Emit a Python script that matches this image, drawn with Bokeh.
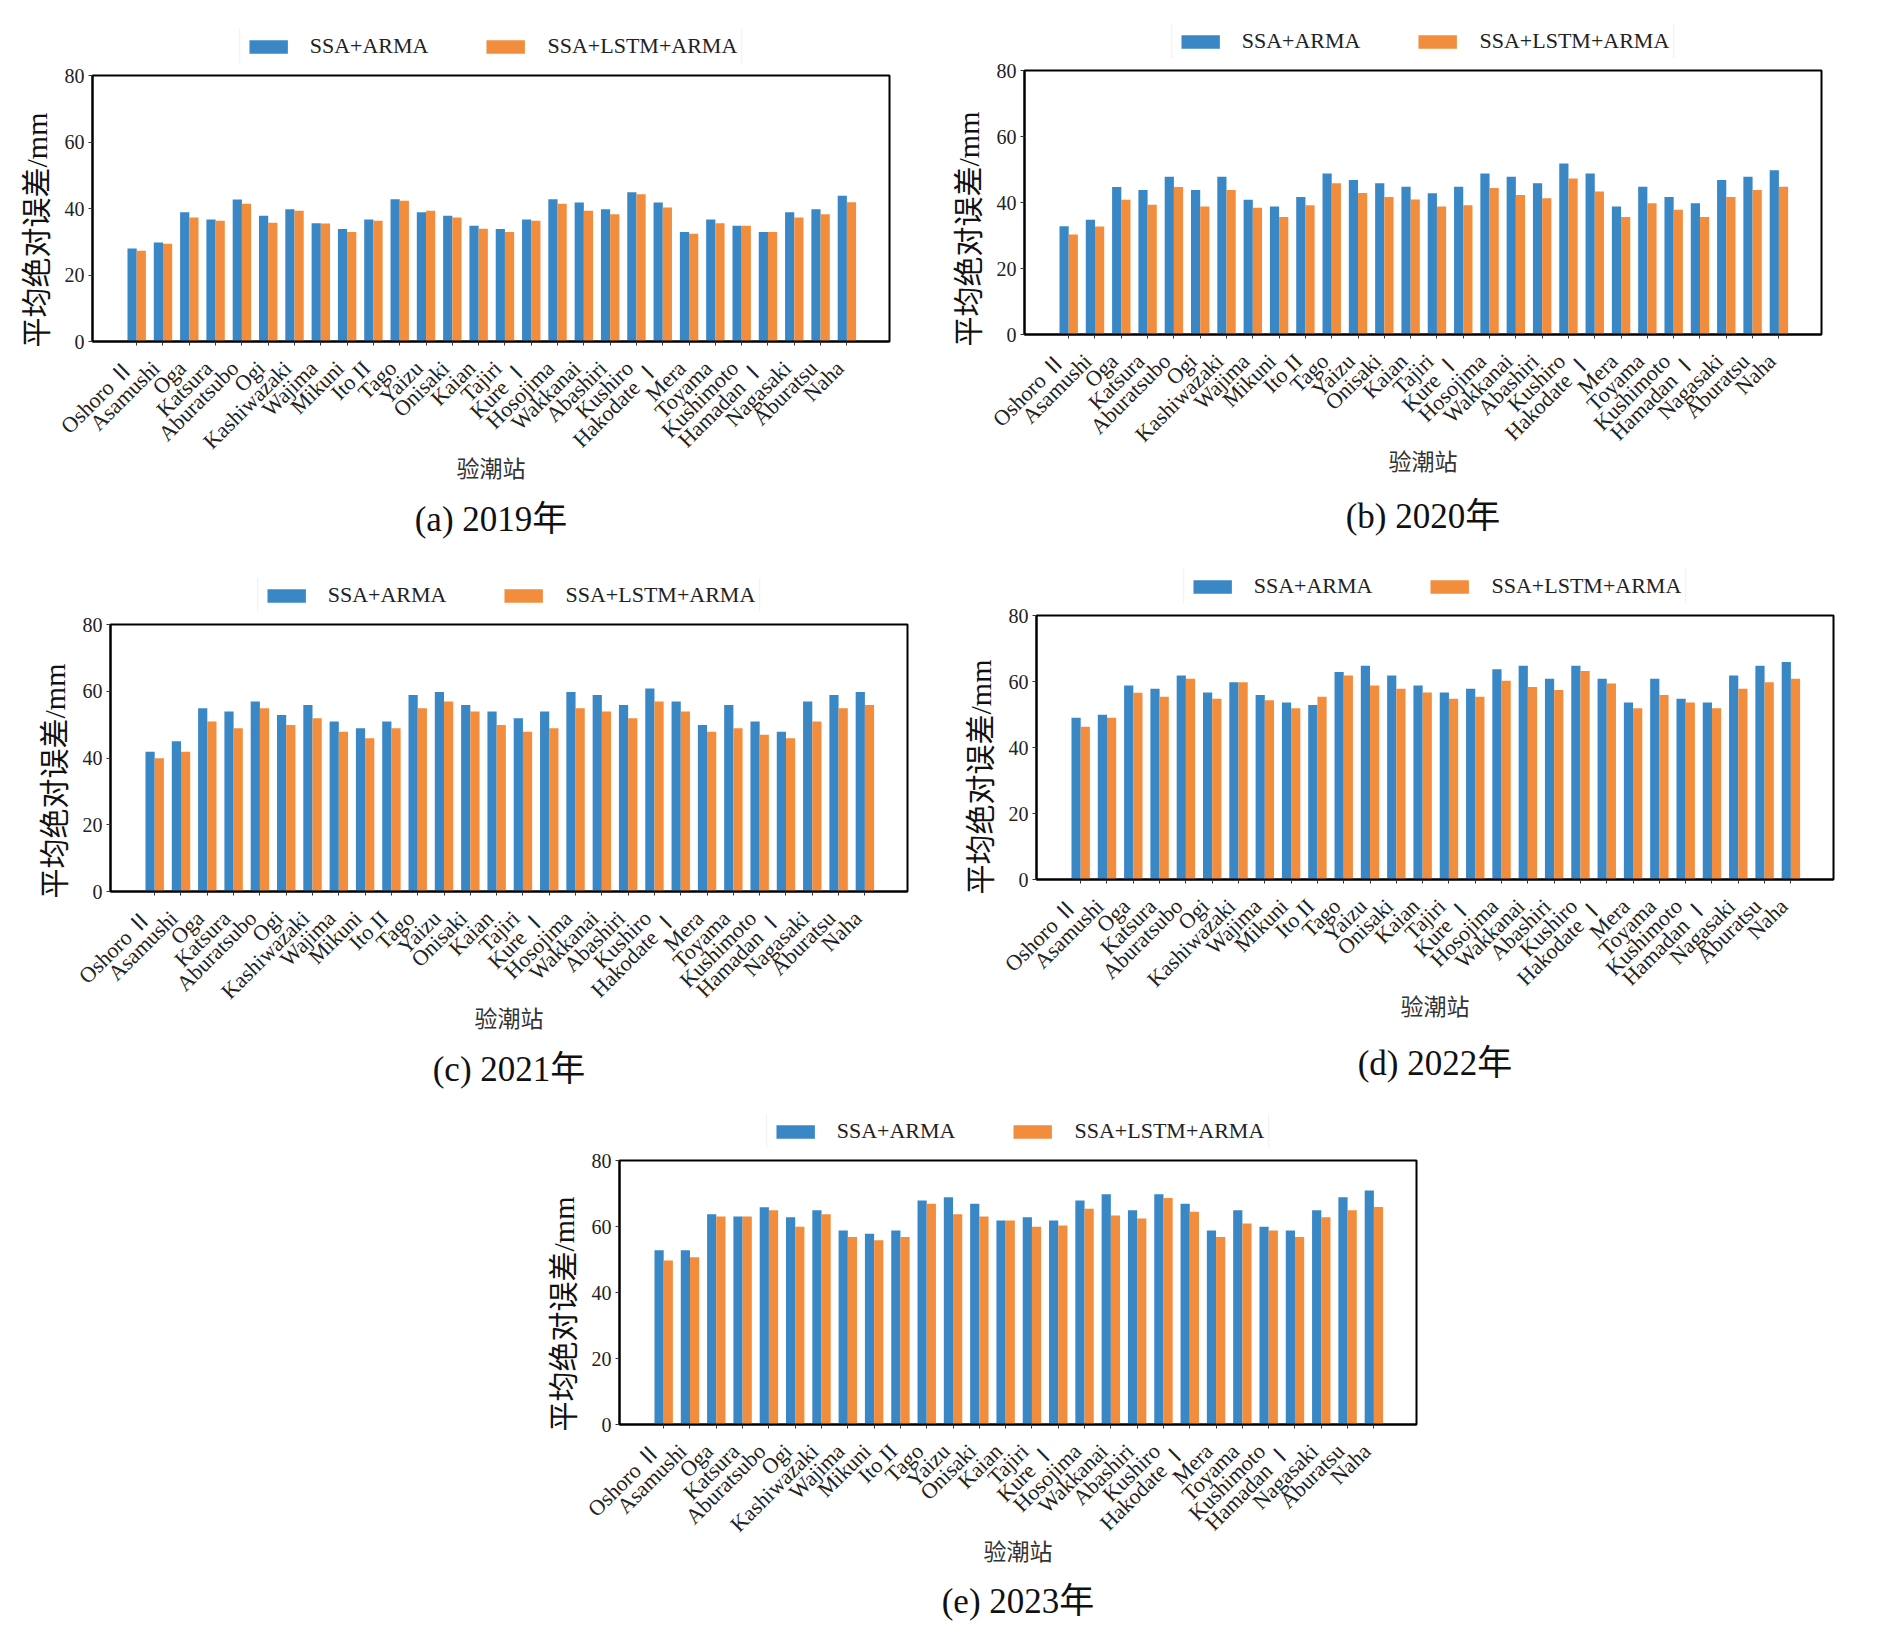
import math
from bokeh.plotting import figure
from bokeh.models import (Range1d, FixedTicker, ColumnDataSource, Legend, LegendItem, Title,
                          Spacer, LinearAxis)
from bokeh.layouts import row, column
from bokeh.transform import dodge
from bokeh.embed import file_html
from bokeh.resources import INLINE

stations = ["Oshoro Ⅱ", "Asamushi", "Oga", "Katsura", "Aburatsubo", "Ogi", "Kashiwazaki",
            "Wajima", "Mikuni", "Ito II", "Tago", "Yaizu", "Onisaki", "Kaian", "Tajiri",
            "Kure Ⅰ", "Hosojima", "Wakkanai", "Abashiri", "Kushiro", "Hakodate Ⅰ", "Mera",
            "Toyama", "Kushimoto", "Hamadan Ⅰ", "Nagasaki", "Aburatsu", "Naha"]

series_names = ["SSA+ARMA", "SSA+LSTM+ARMA"]

ssa_2019 = [28, 29.8, 38.9, 36.7, 42.7, 37.8, 39.8, 35.6, 33.8, 36.7, 42.8, 38.9, 37.8, 34.8,
            33.8, 36.7, 42.8, 41.8, 39.8, 44.9, 41.8, 32.9, 36.7, 34.8, 32.9, 38.9, 39.8, 43.8]
lstm_2019 = [27.3, 29.4, 37.3, 36.3, 41.4, 35.7, 39.3, 35.5, 32.9, 36.3, 42.3, 39.3, 37.3, 33.9,
             32.9, 36.3, 41.4, 39.3, 38.3, 44.3, 40.3, 32.4, 35.6, 34.8, 32.9, 37.3, 38.3, 41.9]

ssa_2020 = [32.8, 34.8, 44.7, 43.8, 47.8, 43.8, 47.8, 40.8, 38.8, 41.7, 48.8, 46.8, 45.8, 44.8,
            42.8, 44.8, 48.8, 47.8, 45.8, 51.8, 48.8, 38.8, 44.8, 41.7, 39.8, 46.8, 47.8, 49.8]
lstm_2020 = [30.3, 32.7, 40.8, 39.3, 44.7, 38.8, 43.8, 38.4, 35.6, 39.2, 45.8, 42.9, 41.7, 40.9,
             38.8, 39.2, 44.4, 42.3, 41.3, 47.3, 43.3, 35.6, 39.8, 37.8, 35.6, 41.7, 43.8, 44.8]

ssa_2021 = [41.9, 45, 54.9, 53.9, 56.9, 52.9, 55.9, 50.9, 48.9, 50.9, 58.9, 59.8, 55.9, 53.9,
            51.9, 53.9, 59.8, 58.9, 55.9, 60.8, 56.9, 49.9, 55.9, 50.9, 47.9, 56.9, 58.9, 59.8]
lstm_2021 = [39.9, 41.9, 50.9, 48.9, 54.9, 49.9, 51.9, 47.9, 45.9, 48.9, 54.9, 56.9, 53.9, 49.9,
             47.9, 48.9, 54.9, 53.9, 51.9, 56.9, 53.9, 47.9, 48.9, 47, 45.9, 50.9, 54.9, 55.9]

ssa_2022 = [49, 49.9, 58.8, 57.8, 61.8, 56.7, 59.8, 55.9, 53.6, 52.9, 62.9, 64.8, 61.8, 58.8,
            56.7, 57.8, 63.7, 64.8, 60.8, 64.8, 60.8, 53.6, 60.8, 54.8, 53.6, 61.8, 64.8, 65.9]
lstm_2022 = [46.3, 49, 56.6, 55.4, 60.8, 54.8, 59.8, 54.3, 51.9, 55.4, 61.8, 58.8, 57.8, 56.7,
             54.8, 55.4, 60.2, 58.3, 57.4, 63.2, 59.4, 51.9, 55.9, 53.6, 51.9, 57.8, 59.8, 60.8]

ssa_2023 = [52.8, 52.8, 63.7, 63, 65.8, 62.8, 64.9, 58.8, 57.8, 58.8, 67.9, 68.9, 66.9, 61.8,
            62.8, 61.8, 67.9, 69.8, 64.9, 69.8, 66.9, 58.8, 64.9, 59.9, 58.8, 64.9, 68.9, 70.9]
lstm_2023 = [49.7, 50.7, 63, 63, 64.9, 59.9, 63.7, 56.8, 55.8, 56.8, 66.9, 63.7, 63, 61.8,
             59.9, 60.3, 65.4, 63.3, 62.4, 68.6, 64.5, 56.8, 60.9, 58.8, 56.8, 62.8, 64.9, 65.9]

y_ticks = [0, 20, 40, 60, 80]
captions = ["(a) 2019年", "(b) 2020年", "(c) 2021年", "(d) 2022年", "(e) 2023年"]
x_title = "验潮站"
y_title = "平均绝对误差/mm"

BLUE = "#3a87c6"
ORANGE = "#f28d3e"
SERIF = "Liberation Serif, Noto Sans CJK SC"
LATIN = "Liberation Serif"
FW = 797
LEG_H = 34        # height of the legend strip
TOP = 12          # border between legend strip and frame
LABEL_SHIFT = 0.27


def legend_strip(src, left, right):
    # same data as the panel, but the strip's y range lies above all values, so only the legend shows
    lf = figure(width=left + FW + right, height=LEG_H,
                min_border_left=left, min_border_right=right,
                min_border_top=0, min_border_bottom=0,
                x_axis_location=None, y_axis_location=None,
                x_range=Range1d(-1.68, len(stations) - 1 + 1.62), y_range=Range1d(100, 101),
                output_backend="svg", toolbar_location=None)
    lf.grid.visible = False
    lf.outline_line_color = None
    r1 = lf.vbar(x=dodge("x", -0.175), top="ssa", width=0.35, source=src,
                 fill_color=BLUE, line_color=None)
    r2 = lf.vbar(x=dodge("x", 0.175), top="lstm", width=0.35, source=src,
                 fill_color=ORANGE, line_color=None)
    legend = Legend(items=[LegendItem(label=series_names[0], renderers=[r1]),
                           LegendItem(label=series_names[1], renderers=[r2])],
                    orientation="horizontal", location="center",
                    label_text_font=LATIN, label_text_font_size="22px",
                    label_text_color="#222222",
                    glyph_width=48, glyph_height=17, label_standoff=18,
                    spacing=53, padding=4, margin=0, label_height=24,
                    border_line_color="#e4e4e4", border_line_width=1,
                    background_fill_color="white")
    lf.add_layout(legend, "center")
    return lf


def make_panel(src, caption, left, right, bottom, fh, ytitle_off, cap_standoff):
    idx = list(range(len(stations)))
    x0, x1 = -1.68, len(stations) - 1 + 1.62
    p = figure(width=left + FW + right, height=TOP + fh + bottom,
               x_range=Range1d(x0, x1), y_range=Range1d(0, 80),
               x_axis_location=None,
               output_backend="svg", toolbar_location=None,
               min_border_left=left, min_border_top=TOP,
               min_border_right=right, min_border_bottom=bottom)
    p.extra_x_ranges = {"lab": Range1d(x0 + LABEL_SHIFT, x1 + LABEL_SHIFT)}
    p.vbar(x=dodge("x", -0.175), top="ssa", width=0.35, source=src,
           fill_color=BLUE, line_color=None)
    p.vbar(x=dodge("x", 0.175), top="lstm", width=0.35, source=src,
           fill_color=ORANGE, line_color=None)

    p.grid.visible = False
    p.outline_line_color = "black"
    p.outline_line_width = 2
    p.background_fill_color = "white"
    p.border_fill_color = "white"

    # x axis: labels at integer positions of the shifted range, tick marks (minor) at bar-group centres
    xa = LinearAxis(x_range_name="lab",
                    ticker=FixedTicker(ticks=idx, minor_ticks=[i + LABEL_SHIFT for i in idx]),
                    major_label_overrides={i: s for i, s in enumerate(stations)},
                    major_label_orientation=math.pi / 4, major_label_standoff=19,
                    major_tick_out=0, major_tick_in=0, major_tick_line_color=None,
                    minor_tick_out=4, minor_tick_in=0, minor_tick_line_color="#333333",
                    axis_line_color="black", axis_line_width=2,
                    major_label_text_font=SERIF, major_label_text_font_size="22px",
                    major_label_text_color="#222222",
                    axis_label=x_title, axis_label_text_font=SERIF,
                    axis_label_text_font_style="normal", axis_label_text_font_size="23px",
                    axis_label_text_color="#333333", axis_label_standoff=-9)
    p.add_layout(xa, "below")

    ya = p.yaxis[0]
    ya.ticker = FixedTicker(ticks=y_ticks)
    ya.major_label_standoff = 4
    ya.major_label_text_font = LATIN
    ya.major_label_text_font_size = "20px"
    ya.major_label_text_color = "#222222"
    ya.axis_line_color = "black"
    ya.axis_line_width = 2
    ya.major_tick_in = 0
    ya.major_tick_out = 4
    ya.major_tick_line_color = "#333333"
    ya.minor_tick_line_color = None

    yt = Title(text=y_title, align="left", offset=ytitle_off, text_font=SERIF,
               text_font_size="30px", text_font_style="normal",
               text_color="#111111", standoff=18)
    p.add_layout(yt, "left")

    t = Title(text=caption, align="center", text_font=SERIF,
              text_font_size="35px", text_font_style="normal",
              text_color="#111111", standoff=cap_standoff)
    p.add_layout(t, "below")
    return p


def panel_block(ssa, lstm, caption, left, right, bottom, fh, ytitle_off, cap_standoff, pad):
    src = ColumnDataSource(dict(x=list(range(len(stations))), ssa=ssa, lstm=lstm))
    return column(Spacer(width=1, height=pad),
                  legend_strip(src, left, right),
                  make_panel(src, caption, left, right, bottom, fh, ytitle_off, cap_standoff))


ba = panel_block(ssa_2019, lstm_2019, captions[0], 92, 40, 218, 266, -6, 26, 29)
bb = panel_block(ssa_2020, lstm_2020, captions[1], 95, 34, 225, 264, -12, 35, 24)
bc = panel_block(ssa_2021, lstm_2021, captions[2], 110, 40, 211, 267, -7, 26, 19)
bd = panel_block(ssa_2022, lstm_2022, captions[3], 89, 30, 222, 265, -15, 39, 10)
be = panel_block(ssa_2023, lstm_2023, captions[4], 92, 40, 203, 269, -7, 24, 12)

layout = column(row(ba, bb), row(bc, bd), row(Spacer(width=527, height=10), be))

open("out.html", "w").write(file_html(layout, INLINE))
